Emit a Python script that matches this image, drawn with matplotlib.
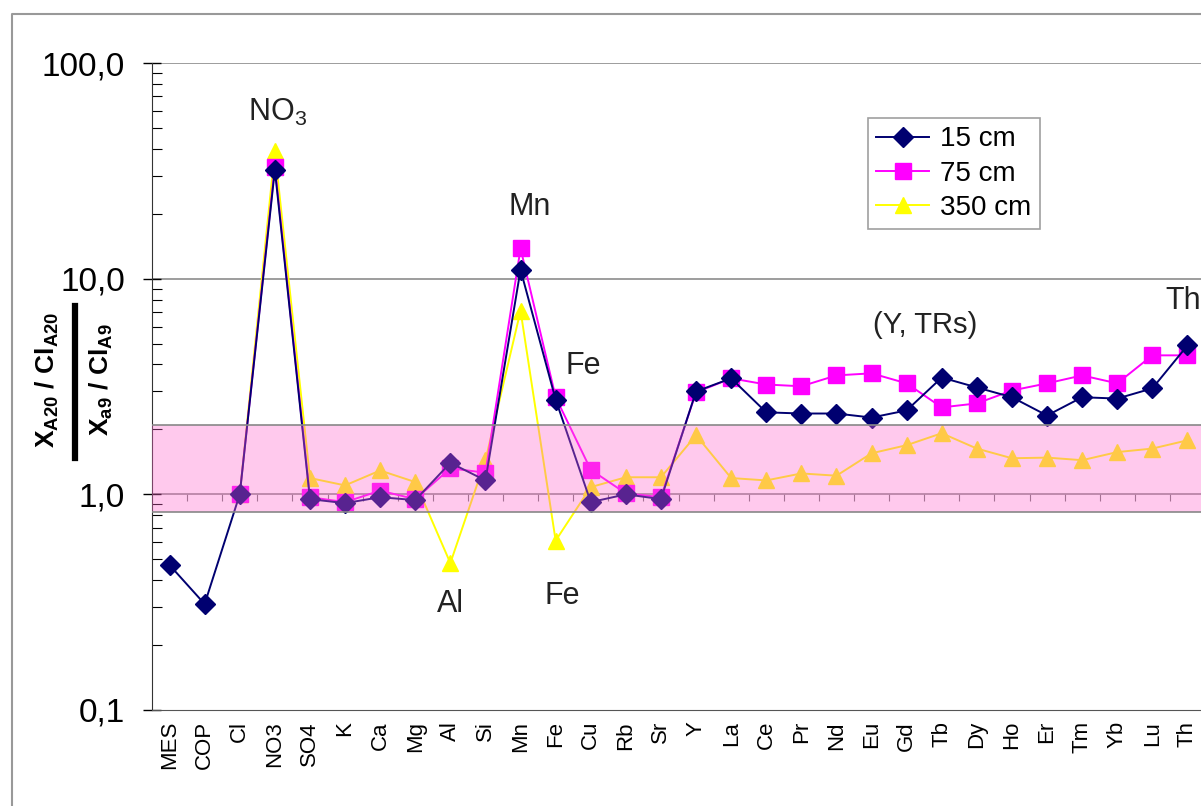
import matplotlib
matplotlib.use("Agg")
import matplotlib.pyplot as plt
from matplotlib.lines import Line2D
import numpy as np

plt.rcParams['font.family'] = ['Liberation Sans', 'DejaVu Sans']
plt.rcParams['mathtext.fontset'] = 'custom'
plt.rcParams['mathtext.rm'] = 'Liberation Sans'
plt.rcParams['mathtext.bf'] = 'Liberation Sans:bold'
plt.rcParams['mathtext.it'] = 'Liberation Sans:italic'

elements = ["MES", "COP", "Cl", "NO3", "SO4", "K", "Ca", "Mg", "Al", "Si",
            "Mn", "Fe", "Cu", "Rb", "Sr", "Y", "La", "Ce", "Pr", "Nd",
            "Eu", "Gd", "Tb", "Dy", "Ho", "Er", "Tm", "Yb", "Lu", "Th"]

nan = np.nan
# ratios
cm15 = [0.47, 0.31, 1.0, 32.0, 0.95, 0.91, 0.97, 0.94, 1.40, 1.16,
        11.0, 2.75, 0.92, 1.0, 0.95, 3.0, 3.45, 2.40, 2.37, 2.37,
        2.27, 2.45, 3.48, 3.13, 2.82, 2.32, 2.82, 2.78, 3.10, 4.9]
cm75 = [nan, nan, 1.0, 33.0, 0.97, 0.92, 1.04, 0.95, 1.32, 1.26,
        13.8, 2.82, 1.30, 1.01, 0.97, 2.97, 3.45, 3.23, 3.17, 3.56,
        3.64, 3.27, 2.53, 2.64, 3.03, 3.27, 3.56, 3.27, 4.41, 4.41]
cm350 = [nan, nan, 1.0, 39.0, 1.19, 1.10, 1.29, 1.14, 0.48, 1.44,
         7.1, 0.61, 1.08, 1.20, 1.20, 1.88, 1.19, 1.16, 1.25, 1.22,
         1.55, 1.69, 1.92, 1.63, 1.47, 1.48, 1.44, 1.57, 1.63, 1.78]

band_low, band_high = 0.83, 2.1
yticks = [0.1, 1, 10, 100]
ytick_labels = ["0,1", "1,0", "10,0", "100,0"]

fig = plt.figure(figsize=(12.01, 8.06), dpi=100)
ax = fig.add_axes([152 / 1201, 1 - 710 / 806, 1053 / 1201, 647 / 806])

x = np.arange(len(elements))
ax.plot(x, cm15, color='#000070', marker='D', markersize=10, lw=1.4, label='15 cm', zorder=4)
ax.plot(x, cm75, color='#FF00FF', marker='s', markersize=11, lw=1.4, label='75 cm', zorder=3)
ax.plot(x, cm350, color='#FFFF00', marker='^', markersize=12, lw=1.4, label='350 cm', zorder=2)

# translucent pink band drawn over the series
ax.axhspan(band_low, band_high, facecolor='#FF66CC', alpha=0.35, edgecolor='none', zorder=5)
ax.axhline(band_low, color='#888888', lw=1.2, zorder=5)
ax.axhline(band_high, color='#888888', lw=1.2, zorder=5)

ax.set_yscale('log')
ax.set_ylim(0.1, 100)
ax.set_xlim(-0.5, len(elements) - 0.5)
ax.set_yticks(yticks)
ax.set_yticklabels(ytick_labels, fontsize=24)
ax.yaxis.set_minor_formatter(plt.NullFormatter())
ax.tick_params(axis='y', which='major', direction='inout', length=13, width=1, pad=13)
ax.tick_params(axis='y', which='minor', direction='in', length=7, width=0.8)

ax.set_xticks(x)
ax.set_xticklabels(elements, rotation=90, fontsize=16)
ax.tick_params(axis='x', length=0, pad=8)

for yv in [1, 10, 100]:
    ax.axhline(yv, color='#8c8c8c', lw=1.2, zorder=1)

for side in ['top', 'right']:
    ax.spines[side].set_visible(False)
ax.spines['left'].set_color('#333333')
ax.spines['bottom'].set_color('#555555')

# category tick marks sit on the 1,0 line
sec = ax.secondary_xaxis(1 / 3)
sec.set_xticks(np.arange(0.5, len(elements) - 1, 1))
sec.tick_params(direction='out', length=5, color='#777777', labelbottom=False, labeltop=False)
sec.spines['bottom'].set_visible(False)
sec.spines['top'].set_visible(False)

# annotations
ann = dict(fontsize=22, color='#222222', ha='center', va='center')
ax.text(3.08, 59, r'NO$_3$', **ann)
ax.text(10.26, 21.4, 'Mn', **ann)
ax.text(11.8, 3.92, 'Fe', **ann)
ax.text(8.0, 0.31, 'Al', **ann)
ax.text(11.2, 0.337, 'Fe', **ann)
ax.text(21.54, 6.07, '(Y, TRs)', fontsize=21, color='#222222', ha='center', va='center')
ann['ha'] = 'left'
ax.text(28.38, 7.9, 'Th', **ann)

leg = ax.legend(loc='upper left', bbox_to_anchor=(868 / 1201, 1 - 118 / 806),
                bbox_transform=fig.transFigure, fontsize=20, frameon=True,
                fancybox=False, edgecolor='#888888', handlelength=1.9,
                handletextpad=0.4, borderpad=0.3, labelspacing=0.3,
                borderaxespad=0)
leg.get_frame().set_linewidth(1.2)

# y label as a stacked fraction
fig.text(47 / 1201, 1 - 380 / 806, r'$\mathbf{X_{A20}\ /\ Cl_{A20}}$', rotation=90,
         fontsize=19, ha='center', va='center')
fig.text(101 / 1201, 1 - 380 / 806, r'$\mathbf{X_{a9}\ /\ Cl_{A9}}$', rotation=90,
         fontsize=19, ha='center', va='center')
fig.add_artist(Line2D([75 / 1201, 75 / 1201], [1 - 306 / 806, 1 - 458 / 806],
                      color='black', lw=4.5, transform=fig.transFigure))

# chart area border
fig.add_artist(Line2D([12 / 1201, 12 / 1201, 1.0], [0, 1 - 14 / 806, 1 - 14 / 806],
                      color='#999999', lw=1.5, transform=fig.transFigure))

fig.savefig('out.png', dpi=100)
